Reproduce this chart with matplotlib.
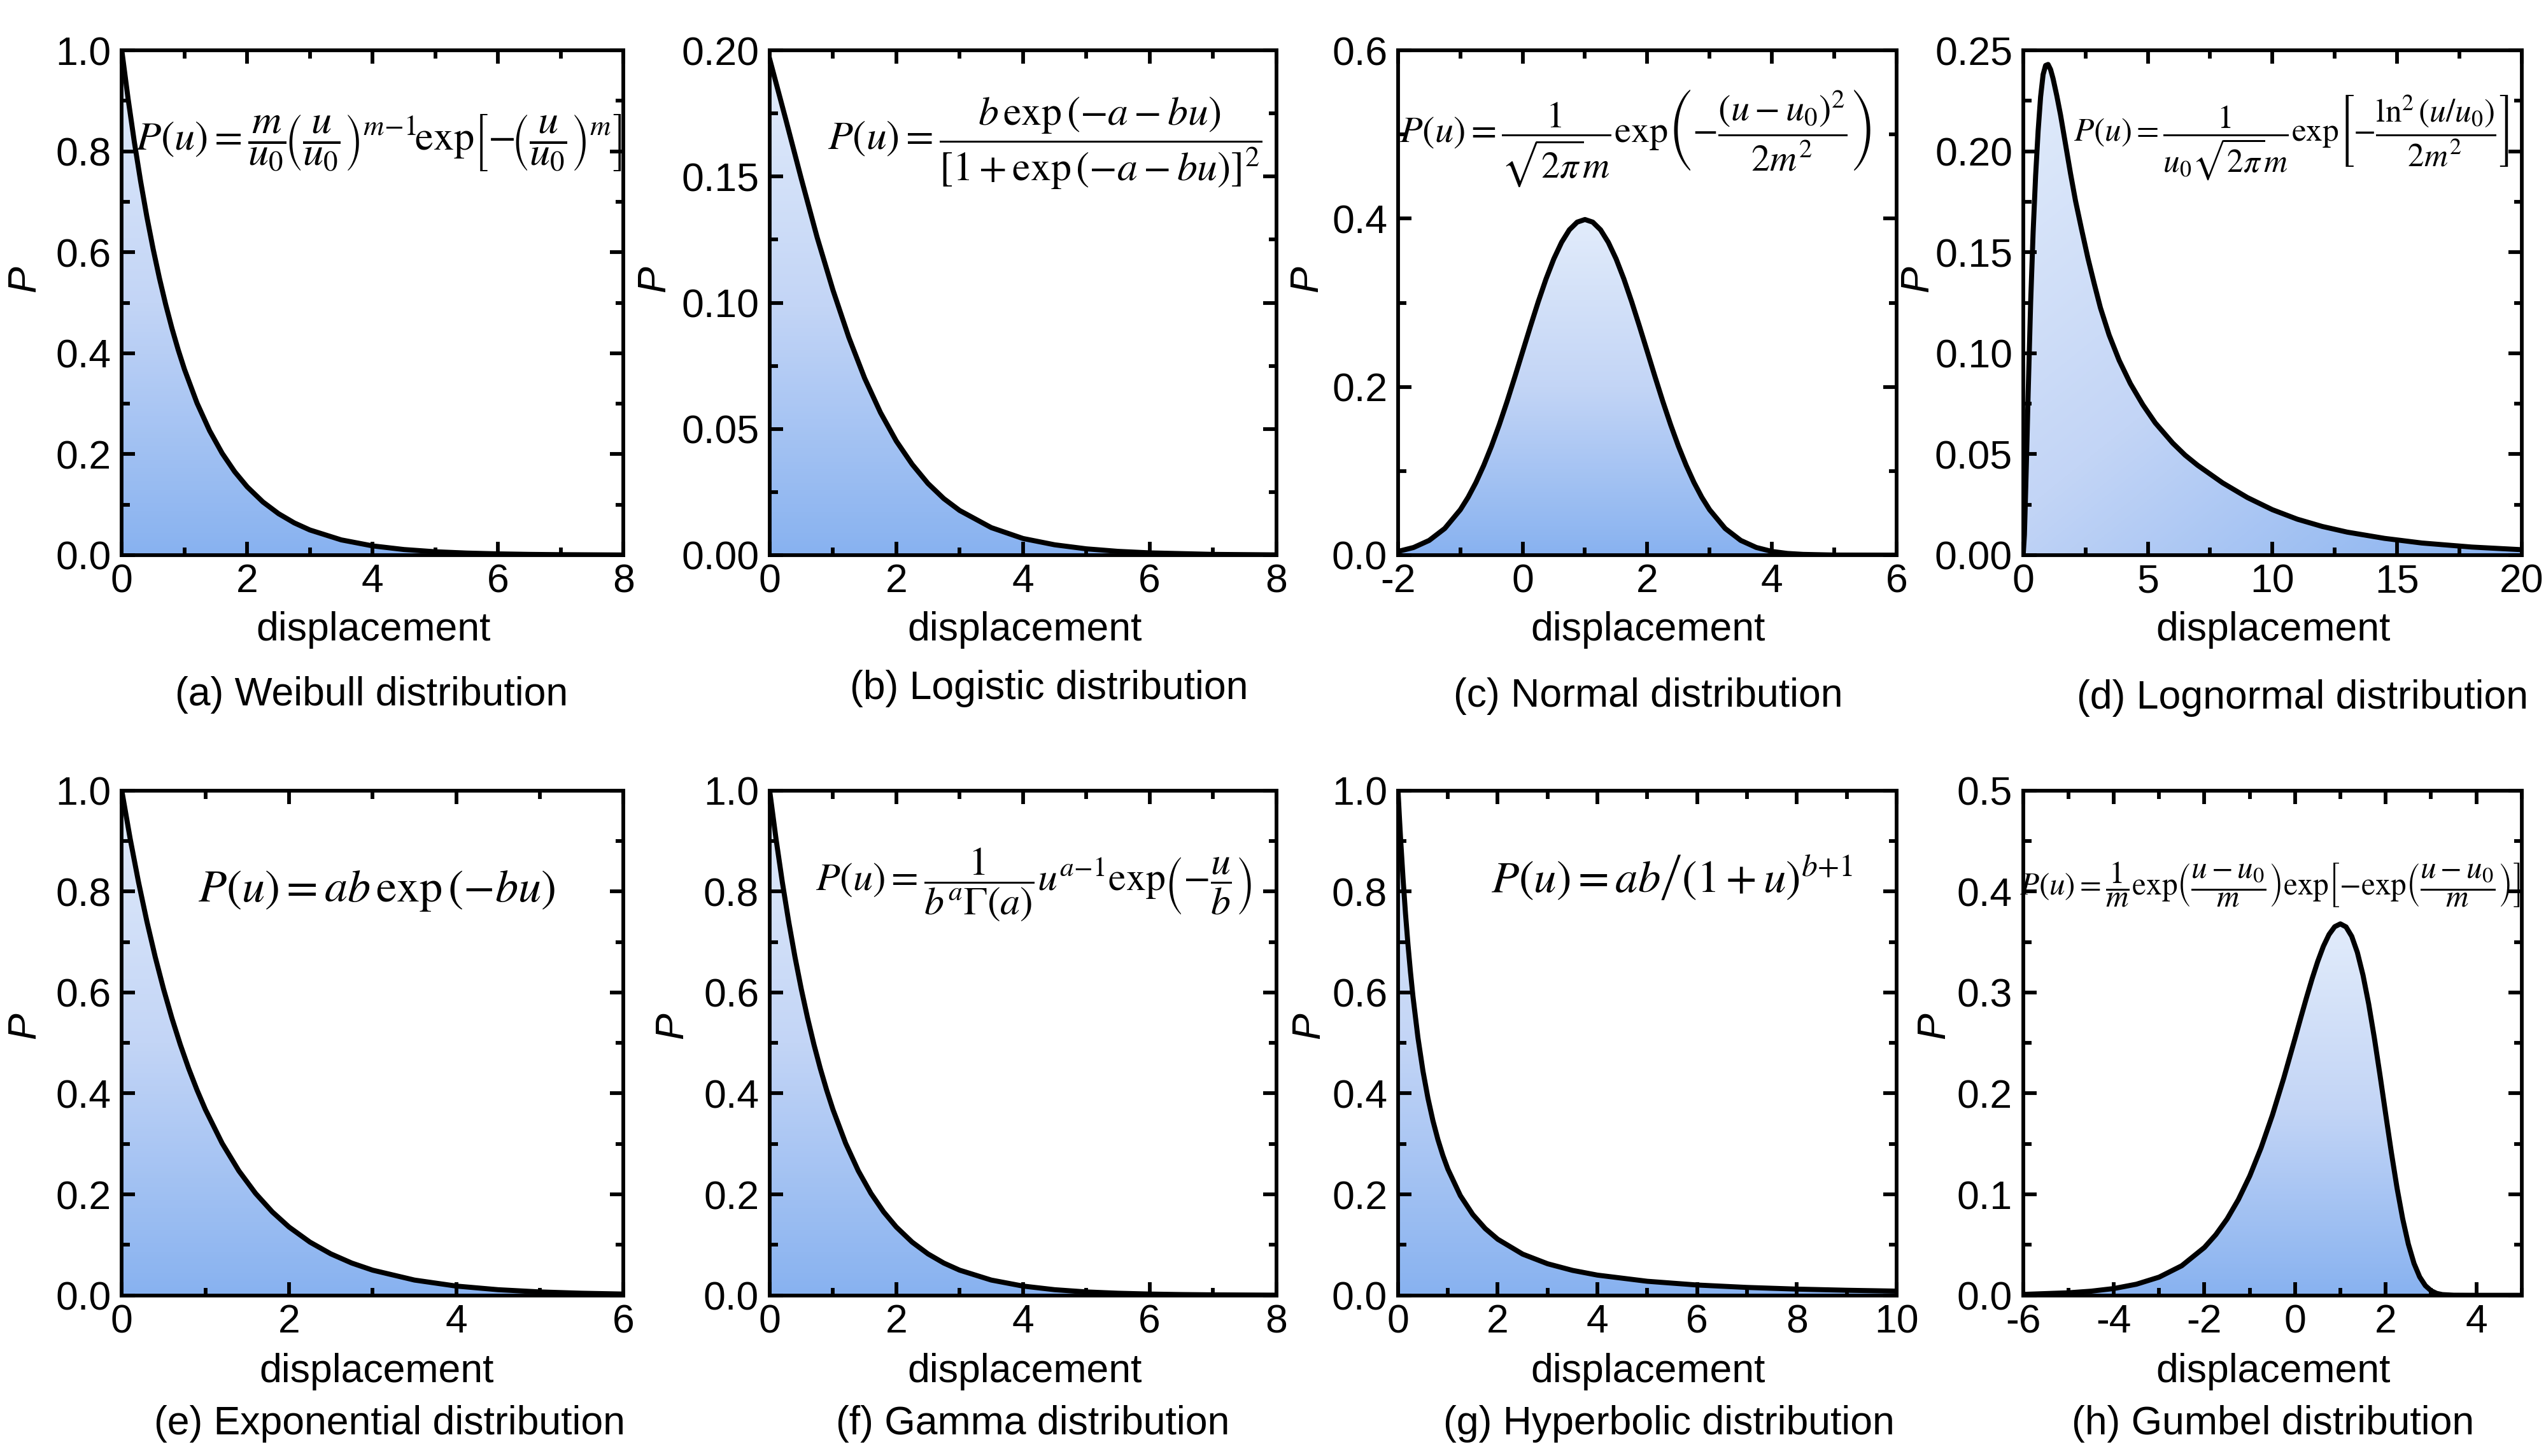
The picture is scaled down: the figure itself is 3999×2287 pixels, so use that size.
import numpy as np
import matplotlib
matplotlib.use('Agg')
import matplotlib.pyplot as plt
from matplotlib.ticker import MultipleLocator, FormatStrFormatter
from matplotlib.colors import LinearSegmentedColormap

plt.rcParams['font.family'] = ['Liberation Sans', 'DejaVu Sans']
plt.rcParams['mathtext.fontset'] = 'stix'

# ---------------- data ----------------
u_weibull = [0, 0.1, 0.2, 0.3, 0.4, 0.5, 0.6, 0.7, 0.8, 0.9, 1.0, 1.2, 1.4, 1.6, 1.8, 2.0,
             2.25, 2.5, 2.75, 3.0, 3.5, 4.0, 4.5, 5.0, 5.5, 6.0, 6.5, 7.0, 7.5, 8.0]
p_weibull = [1.0, 0.9048, 0.8187, 0.7408, 0.6703, 0.6065, 0.5488, 0.4966, 0.4493, 0.4066, 0.3679,
             0.3012, 0.2466, 0.2019, 0.1653, 0.1353, 0.1054, 0.0821, 0.0639, 0.0498, 0.0302,
             0.0183, 0.0111, 0.0067, 0.0041, 0.0025, 0.0015, 0.0009, 0.0006, 0.0003]

u_logistic = [0, 0.25, 0.5, 0.75, 1.0, 1.25, 1.5, 1.75, 2.0, 2.25, 2.5, 2.75, 3.0, 3.5, 4.0,
              4.5, 5.0, 5.5, 6.0, 7.0, 8.0]
p_logistic = [0.1966, 0.1731, 0.1491, 0.1259, 0.1050, 0.0863, 0.0701, 0.0565, 0.0452, 0.0360,
              0.0284, 0.0224, 0.0177, 0.0109, 0.0066, 0.0041, 0.0025, 0.0015, 0.0009, 0.0003, 0.0001]

u_normal = [-2.0, -1.75, -1.5, -1.25, -1.0, -0.875, -0.75, -0.625, -0.5, -0.375, -0.25, -0.125,
            0.0, 0.125, 0.25, 0.375, 0.5, 0.625, 0.75, 0.875, 1.0, 1.125, 1.25, 1.375, 1.5,
            1.625, 1.75, 1.875, 2.0, 2.125, 2.25, 2.375, 2.5, 2.625, 2.75, 2.875, 3.0, 3.25,
            3.5, 3.75, 4.0, 4.25, 4.5, 5.0, 6.0]
p_normal = [0.0044, 0.0091, 0.0175, 0.0317, 0.0540, 0.0688, 0.0863, 0.1066, 0.1295, 0.1550,
            0.1826, 0.2119, 0.2420, 0.2720, 0.3011, 0.3282, 0.3521, 0.3718, 0.3867, 0.3958,
            0.3989, 0.3958, 0.3867, 0.3718, 0.3521, 0.3282, 0.3011, 0.2720, 0.2420, 0.2119,
            0.1826, 0.1550, 0.1295, 0.1066, 0.0863, 0.0688, 0.0540, 0.0317, 0.0175, 0.0091,
            0.0044, 0.0020, 0.0009, 0.0001, 0.0]

u_lognormal = [0.0, 0.05, 0.1, 0.15, 0.2, 0.3, 0.4, 0.5, 0.6, 0.7, 0.8, 0.9, 1.0, 1.1, 1.2,
               1.35, 1.5, 1.7, 1.9, 2.1, 2.35, 2.6, 2.85, 3.1, 3.45, 3.85, 4.3, 4.8, 5.3, 6.0,
               6.5, 7.0, 8.0, 9.0, 10.0, 11.0, 12.0, 13.0, 14.5, 16.0, 18.0, 20.0]
p_lognormal = [0.0, 0.010, 0.032, 0.055, 0.080, 0.125, 0.160, 0.188, 0.210, 0.227, 0.238,
               0.2425, 0.243, 0.2405, 0.236, 0.2275, 0.218, 0.2035, 0.189, 0.1755, 0.161,
               0.147, 0.1345, 0.1225, 0.109, 0.0965, 0.0850, 0.0745, 0.0655, 0.0555, 0.0495,
               0.0445, 0.0358, 0.0285, 0.0225, 0.0178, 0.0142, 0.0114, 0.0083, 0.0060, 0.0040,
               0.0027]

u_expo = [0, 0.1, 0.2, 0.3, 0.4, 0.5, 0.6, 0.7, 0.8, 0.9, 1.0, 1.2, 1.4, 1.6, 1.8, 2.0,
          2.25, 2.5, 2.75, 3.0, 3.5, 4.0, 4.5, 5.0, 5.5, 6.0]
p_expo = [1.0, 0.9048, 0.8187, 0.7408, 0.6703, 0.6065, 0.5488, 0.4966, 0.4493, 0.4066, 0.3679,
          0.3012, 0.2466, 0.2019, 0.1653, 0.1353, 0.1054, 0.0821, 0.0639, 0.0498, 0.0302,
          0.0183, 0.0111, 0.0067, 0.0041, 0.0025]

u_gamma = [0, 0.1, 0.2, 0.3, 0.4, 0.5, 0.6, 0.7, 0.8, 0.9, 1.0, 1.2, 1.4, 1.6, 1.8, 2.0,
           2.25, 2.5, 2.75, 3.0, 3.5, 4.0, 4.5, 5.0, 5.5, 6.0, 6.5, 7.0, 7.5, 8.0]
p_gamma = [1.0, 0.9048, 0.8187, 0.7408, 0.6703, 0.6065, 0.5488, 0.4966, 0.4493, 0.4066, 0.3679,
           0.3012, 0.2466, 0.2019, 0.1653, 0.1353, 0.1054, 0.0821, 0.0639, 0.0498, 0.0302,
           0.0183, 0.0111, 0.0067, 0.0041, 0.0025, 0.0015, 0.0009, 0.0006, 0.0003]

u_hyper = [0, 0.025, 0.05, 0.1, 0.15, 0.2, 0.25, 0.3, 0.4, 0.5, 0.6, 0.7, 0.8, 0.9, 1.0, 1.25,
           1.5, 1.75, 2.0, 2.5, 3.0, 3.5, 4.0, 5.0, 6.0, 7.0, 8.0, 9.0, 10.0]
p_hyper = [1.0, 0.9518, 0.907, 0.8264, 0.7561, 0.6944, 0.64, 0.5917, 0.5102, 0.4444, 0.3906,
           0.3460, 0.3086, 0.2770, 0.25, 0.1975, 0.16, 0.1322, 0.1111, 0.0816, 0.0625, 0.0494,
           0.04, 0.0278, 0.0204, 0.0156, 0.0123, 0.01, 0.0083]

u_gumbel = [-6.0, -5.0, -4.5, -4.0, -3.5, -3.0, -2.5, -2.0, -1.75, -1.5, -1.25, -1.0, -0.75,
            -0.5, -0.25, 0.0, 0.125, 0.25, 0.375, 0.5, 0.625, 0.75, 0.875, 1.0, 1.125, 1.25,
            1.375, 1.5, 1.625, 1.75, 1.875, 2.0, 2.125, 2.25, 2.375, 2.5, 2.625, 2.75, 2.875,
            3.0, 3.125, 3.25, 3.5, 4.0, 5.0]
p_gumbel = [0.0009, 0.0025, 0.0041, 0.0067, 0.0110, 0.0180, 0.0293, 0.0474, 0.0600, 0.0756,
            0.0949, 0.1182, 0.1461, 0.1785, 0.2151, 0.2546, 0.2748, 0.2945, 0.3134, 0.3307,
            0.3457, 0.3574, 0.3651, 0.3679, 0.3649, 0.3556, 0.3396, 0.3170, 0.2885, 0.2549,
            0.2179, 0.1794, 0.1415, 0.1064, 0.0758, 0.0507, 0.0316, 0.0182, 0.0096, 0.0046,
            0.0019, 0.0007, 0.0001, 0.0, 0.0]

captions = ['(a) Weibull distribution', '(b) Logistic distribution', '(c) Normal distribution',
            '(d) Lognormal distribution', '(e) Exponential distribution', '(f) Gamma distribution',
            '(g) Hyperbolic distribution', '(h) Gumbel distribution']

formulas = [
    r'$P\left(u\right)=\dfrac{m}{u_0}\!\left(\dfrac{u}{u_0}\right)^{m{-}1}\!\exp\!\left[{-}\!\left(\dfrac{u}{u_0}\right)^{m}\right]$',
    r'$P(u)=\dfrac{b\,\exp\left(-a-bu\right)}{\left[1+\exp\left(-a-bu\right)\right]^{2}}$',
    r'$P(u)=\dfrac{1}{\sqrt{2\pi}m}\exp\!\left({-}\dfrac{\left(u-u_0\right)^{2}}{2m^{2}}\right)$',
    r'$P(u)=\dfrac{1}{u_0\sqrt{2\pi}m}\exp\!\left[{-}\dfrac{\ln^{2}\left(u/u_0\right)}{2m^{2}}\right]$',
    r'$P(u)=ab\,\exp\left(-bu\right)$',
    r'$P(u)=\dfrac{1}{b^{a}\Gamma\left(a\right)}u^{a{-}1}\exp\!\left({-}\dfrac{u}{b}\right)$',
    r'$P(u)=ab\left/\left(1+u\right)^{b{+}1}\right.$',
    r'$P\left(u\right)=\dfrac{1}{m}\exp\!\left(\dfrac{u-u_0}{m}\right)\exp\!\left[{-}\exp\!\left(\dfrac{u-u_0}{m}\right)\right]$',
]

series = [(u_weibull, p_weibull), (u_logistic, p_logistic), (u_normal, p_normal),
          (u_lognormal, p_lognormal), (u_expo, p_expo), (u_gamma, p_gamma),
          (u_hyper, p_hyper), (u_gumbel, p_gumbel)]

# ---------------- layout / style ----------------
W, H = 1568.0, 897.0   # reference thumbnail coordinates used for layout
xlims = [(0, 8), (0, 8), (-2, 6), (0, 20), (0, 6), (0, 8), (0, 10), (-6, 5)]
ylims = [(0, 1.0), (0, 0.2), (0, 0.6), (0, 0.25), (0, 1.0), (0, 1.0), (0, 1.0), (0, 0.5)]
xmaj = [2, 2, 2, 5, 2, 2, 2, 2]
ymaj = [0.2, 0.05, 0.2, 0.05, 0.2, 0.2, 0.2, 0.1]
yfmt = ['%.1f', '%.2f', '%.1f', '%.2f', '%.1f', '%.1f', '%.1f', '%.1f']
ax_x = [(75, 384), (474, 786), (861, 1168), (1246, 1553)]
ax_y = [(31, 342), (487, 798)]
xlab_pos = [(230, 388), (631, 388), (1015, 388), (1400, 388),
            (232, 845), (631, 845), (1015, 845), (1400, 845)]
cap_pos = [(229, 428), (646, 424), (1015, 429), (1418, 430),
           (240, 877), (636, 877), (1028, 877), (1400, 877)]
p_pos = [(15, 172), (403, 172), (805, 172), (1181, 172),
         (15, 632), (414, 632), (806, 632), (1191, 632)]
# formula extents in reference (left, right, vertical centre)
form_box = [(83, 384, 88), (517, 770, 88), (866, 1148, 85), (1277, 1545, 85),
            (127, 337, 549), (507, 766, 545), (928, 1131, 541), (1244, 1552, 545)]
form_boost = [1.0, 1.05, 1.03, 1.0, 1.05, 1.04, 1.1, 1.0]

cmap = LinearSegmentedColormap.from_list('bl', ['#88b2f0', '#c3d5f6', '#e2ecfb'])

fig = plt.figure(figsize=(3999 / 300, 2287 / 300), dpi=300)
fs = 15
lw = 1.4

for i in range(8):
    r, c = divmod(i, 4)
    x0, x1 = ax_x[c]
    y0, y1 = ax_y[r]
    ax = fig.add_axes([x0 / W, 1 - y1 / H, (x1 - x0) / W, (y1 - y0) / H])
    u, p = series[i]
    u = np.asarray(u, float)
    p = np.asarray(p, float)
    poly = ax.fill_between(u, p, 0, facecolor='none', edgecolor='none')
    top = p.max()
    if i == 3:
        yy, xx = np.mgrid[0:1:256j, 0:1:256j]
        Z = 0.55 * yy + 0.45 * (1 - xx)
    else:
        Z = np.linspace(0, 1, 256).reshape(-1, 1)
    im = ax.imshow(Z, cmap=cmap, vmin=0, vmax=1, origin='lower', aspect='auto',
                   extent=[u.min(), u.max(), 0, top], zorder=1, interpolation='bilinear')
    im.set_clip_path(poly.get_paths()[0], transform=ax.transData)
    ax.plot(u, p, color='black', lw=1.9, zorder=3, solid_joinstyle='round')
    ax.set_xlim(*xlims[i])
    ax.set_ylim(*ylims[i])
    ax.xaxis.set_major_locator(MultipleLocator(xmaj[i]))
    ax.xaxis.set_minor_locator(MultipleLocator(xmaj[i] / 2))
    ax.yaxis.set_major_locator(MultipleLocator(ymaj[i]))
    ax.yaxis.set_minor_locator(MultipleLocator(ymaj[i] / 2))
    ax.yaxis.set_major_formatter(FormatStrFormatter(yfmt[i]))
    ax.xaxis.set_major_formatter(FormatStrFormatter('%d'))
    ax.tick_params(which='both', direction='in', top=True, right=True, width=lw,
                   labelsize=fs)
    ax.tick_params(axis='x', pad=3)
    ax.tick_params(axis='y', pad=4)
    ax.tick_params(which='major', length=5)
    ax.tick_params(which='minor', length=3)
    for s in ax.spines.values():
        s.set_linewidth(lw)
        s.set_zorder(5)

    fig.text(xlab_pos[i][0] / W, 1 - xlab_pos[i][1] / H, 'displacement', fontsize=fs,
             ha='center', va='center')
    fig.text(cap_pos[i][0] / W, 1 - cap_pos[i][1] / H, captions[i], fontsize=fs,
             ha='center', va='center')
    fig.text(p_pos[i][0] / W, 1 - p_pos[i][1] / H, 'P', fontsize=fs, fontstyle='italic',
             rotation=90, ha='center', va='center')

# formulas, sized to the reference widths
renderer = fig.canvas.get_renderer()
for i in range(8):
    lft, rgt, yc = form_box[i]
    t = fig.text((lft + rgt) / 2 / W, 1 - yc / H, formulas[i], fontsize=14,
                 ha='center', va='center', zorder=10)
    bb = t.get_window_extent(renderer)
    target = (rgt - lft) / W * fig.bbox.width
    t.set_fontsize(14 * target / bb.width * form_boost[i])

fig.savefig('out.png', dpi=300)
